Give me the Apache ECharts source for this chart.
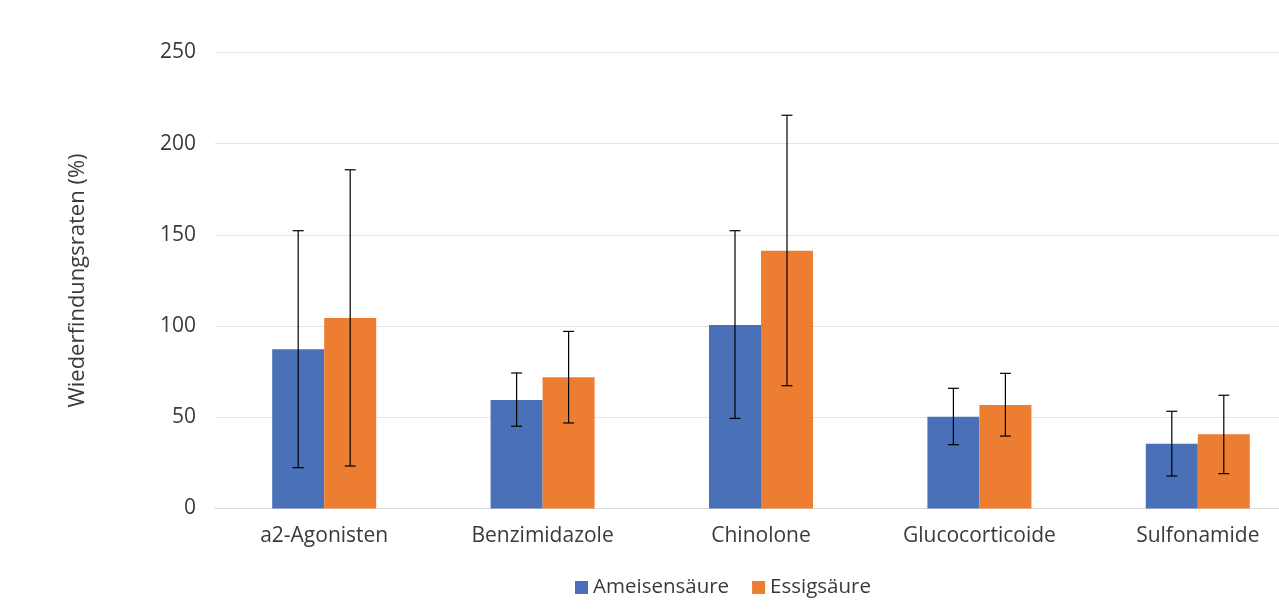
<!DOCTYPE html>
<html>
<head>
<meta charset="utf-8">
<script src="https://cdn.jsdelivr.net/npm/echarts@6/dist/echarts.min.js"></script>
<style>html,body{margin:0;padding:0;background:#fff;overflow:hidden}#c{width:1307px;height:613px}</style>
</head>
<body>
<div id="c"></div>
<script>
const categories = ['a2-Agonisten', 'Benzimidazole', 'Chinolone', 'Glucocorticoide', 'Sulfonamide'];
const seriesNames = ['Ameisensäure', 'Essigsäure'];
const ameisen = [87.3, 59.5, 100.6, 50.3, 35.5];
const ameisenLow = [22.4, 45.1, 49.4, 35.0, 17.8];
const ameisenHigh = [152.3, 74.3, 152.3, 65.9, 53.3];
const essig = [104.4, 71.9, 141.3, 56.7, 40.7];
const essigLow = [23.3, 46.9, 67.3, 39.7, 19.1];
const essigHigh = [185.7, 97.1, 215.6, 74.1, 62.1];
const yTicks = [0, 50, 100, 150, 200, 250];

const BAR_W = 52;
const textColor = '#3a3a3a';
const font = 'Open Sans';

function errSeries(lows, highs, offset) {
  return {
    type: 'custom',
    silent: true,
    z: 10,
    data: categories.map((c, i) => [i, lows[i], highs[i]]),
    renderItem: function (params, api) {
      const lo = api.coord([api.value(0), api.value(1)]);
      const hi = api.coord([api.value(0), api.value(2)]);
      const x = lo[0] + offset;
      const cap = 5.5;
      const st = { stroke: '#000', lineWidth: 1.2 };
      return {
        type: 'group',
        children: [
          { type: 'line', shape: { x1: x, y1: lo[1], x2: x, y2: hi[1] }, style: st },
          { type: 'line', shape: { x1: x - cap, y1: lo[1], x2: x + cap, y2: lo[1] }, style: st },
          { type: 'line', shape: { x1: x - cap, y1: hi[1], x2: x + cap, y2: hi[1] }, style: st }
        ]
      };
    }
  };
}

const chart = echarts.init(document.getElementById('c'));
chart.setOption({
  animation: false,
  textStyle: { fontFamily: font },
  grid: { left: 215, right: 0, top: 52.5, height: 456, containLabel: false },
  legend: {
    data: seriesNames,
    left: 570,
    top: 572,
    itemWidth: 13,
    itemHeight: 13,
    itemGap: 23,
    icon: 'rect',
    textStyle: { color: textColor, fontSize: 20.5, fontFamily: font }
  },
  xAxis: {
    type: 'category',
    data: categories,
    axisLine: { lineStyle: { color: '#d9d9d9', width: 1 } },
    axisTick: { show: false },
    axisLabel: { color: textColor, fontSize: 21, margin: 17, fontFamily: font }
  },
  yAxis: {
    type: 'value',
    min: yTicks[0],
    max: yTicks[yTicks.length - 1],
    interval: 50,
    name: 'Wiederfindungsraten (%)',
    nameLocation: 'middle',
    nameGap: 126,
    nameRotate: 90,
    nameTextStyle: { color: textColor, fontSize: 22, fontFamily: font },
    axisLine: { show: false },
    axisTick: { show: false },
    splitLine: { lineStyle: { color: '#e4e4e4', width: 1 } },
    axisLabel: { color: textColor, fontSize: 21, margin: 19, fontFamily: font }
  },
  series: [
    { name: seriesNames[0], type: 'bar', data: ameisen, barWidth: BAR_W, barGap: '0%', itemStyle: { color: '#4A70B7' } },
    { name: seriesNames[1], type: 'bar', data: essig, barWidth: BAR_W, barGap: '0%', itemStyle: { color: '#ED7D31' } },
    errSeries(ameisenLow, ameisenHigh, -BAR_W / 2),
    errSeries(essigLow, essigHigh, BAR_W / 2)
  ]
});
</script>
</body>
</html>
